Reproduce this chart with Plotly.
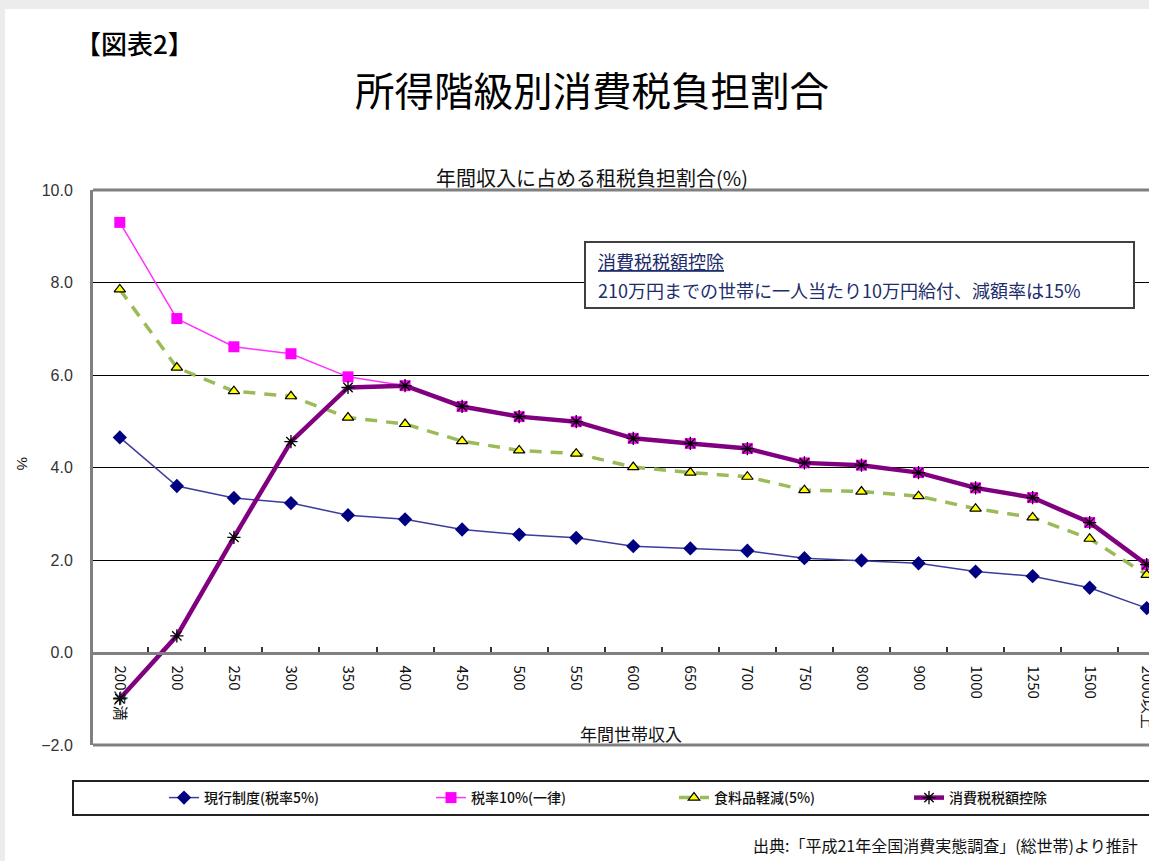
import plotly.graph_objects as go

# ---------------- data ----------------
categories = ["200未満", "200", "250", "300", "350", "400", "450", "500", "550", "600",
              "650", "700", "750", "800", "900", "1000", "1250", "1500", "2000以上"]
current_5 = [4.65, 3.60, 3.34, 3.23, 2.97, 2.88, 2.66, 2.55, 2.48, 2.30,
             2.25, 2.20, 2.04, 1.99, 1.93, 1.75, 1.65, 1.40, 0.96]
flat_10 = [9.30, 7.22, 6.61, 6.46, 5.96, 5.77, 5.32, 5.10, 4.99, 4.63,
           4.52, 4.41, 4.10, 4.05, 3.89, 3.56, 3.35, 2.81, 1.90]
food_5 = [7.85, 6.16, 5.65, 5.54, 5.08, 4.94, 4.57, 4.37, 4.30, 4.01,
          3.89, 3.80, 3.51, 3.48, 3.38, 3.11, 2.92, 2.46, 1.68]
credit = [-1.00, 0.36, 2.49, 4.56, 5.73, 5.77, 5.32, 5.10, 4.99, 4.63,
          4.52, 4.41, 4.10, 4.05, 3.89, 3.56, 3.35, 2.81, 1.90]
series_names = ["現行制度(税率5%)", "税率10%(一律)", "食料品軽減(5%)", "消費税税額控除"]

# ---------------- layout helpers (pixel -> paper) ----------------
W, H = 1149, 861
ML, MR, MT, MB = 93, 0, 190, 116
PW, PH = W - ML - MR, H - MT - MB


def X(px):
    return (px - ML) / PW


def Y(py):
    return (H - MB - py) / PH


JP = "Noto Sans CJK JP"
NUM = "Liberation Sans"

fig = go.Figure()

fig.add_trace(go.Scatter(
    x=categories, y=current_5, name=series_names[0], mode="lines+markers",
    line=dict(color="#3c3c9c", width=1.5),
    marker=dict(symbol="diamond", size=11, color="#000080"),
    legend="legend"))
fig.add_trace(go.Scatter(
    x=categories, y=flat_10, name=series_names[1], mode="lines+markers",
    line=dict(color="#ff33ff", width=1.5),
    marker=dict(symbol="square", size=11, color="#ff00ff"),
    legend="legend2"))
fig.add_trace(go.Scatter(
    x=categories, y=food_5, name=series_names[2], mode="lines+markers",
    line=dict(color="#9bbb59", width=3.5, dash="12px,9px"),
    marker=dict(symbol="triangle-up", size=10, color="#ffff00",
                line=dict(color="#000000", width=1.2)),
    legend="legend3"))
fig.add_trace(go.Scatter(
    x=categories, y=credit, name=series_names[3], mode="lines+markers",
    line=dict(color="#800080", width=4.5),
    marker=dict(symbol="asterisk", size=11, color="#000000",
                line=dict(color="#000000", width=1.3)),
    legend="legend4"))

legend_common = dict(orientation="h", yanchor="middle", y=Y(798), xanchor="left",
                     bgcolor="rgba(0,0,0,0)", borderwidth=0,
                     font=dict(family=JP, size=14, color="#111111", weight=500))

fig.update_layout(
    width=W, height=H,
    margin=dict(l=ML, r=MR, t=MT, b=MB, autoexpand=False),
    paper_bgcolor="white", plot_bgcolor="white",
    showlegend=True,
    legend=dict(legend_common, x=X(164)),
    legend2=dict(legend_common, x=X(431)),
    legend3=dict(legend_common, x=X(674)),
    legend4=dict(legend_common, x=X(909)),
    xaxis=dict(
        type="category", range=[-0.47, 18.04],
        anchor="free", position=1 / 6,
        showline=True, linecolor="#808080", linewidth=3,
        ticks="inside", ticklen=5, tickcolor="#333333", tickwidth=1.5,
        tickson="boundaries", tickangle=90, ticklabelstandoff=8,
        tickfont=dict(family=JP, size=15, color="#111111"),
        showgrid=False, zeroline=False),
    yaxis=dict(
        range=[-2, 10], dtick=2, tickformat=".1f",
        showgrid=True, gridcolor="#000000", gridwidth=1.2,
        zeroline=False, showline=True, linecolor="#808080", linewidth=3,
        ticks="", ticklabelstandoff=14,
        tickfont=dict(family=NUM, size=16, color="#333333")),
)

shapes = []
# top / bottom frame lines of plot area
shapes.append(dict(type="line", xref="paper", yref="paper", x0=0, x1=1, y0=1, y1=1,
                   line=dict(color="#808080", width=3)))
shapes.append(dict(type="line", xref="paper", yref="paper", x0=0, x1=1, y0=0, y1=0,
                   line=dict(color="#808080", width=3)))
# note box
shapes.append(dict(type="rect", xref="paper", yref="paper",
                   x0=X(585), x1=X(1134), y0=Y(308), y1=Y(242),
                   fillcolor="white", line=dict(color="#404040", width=2), layer="above"))
# legend box
shapes.append(dict(type="rect", xref="paper", yref="paper",
                   x0=X(73), x1=X(1165), y0=Y(815), y1=Y(781),
                   fillcolor="rgba(0,0,0,0)", line=dict(color="#222222", width=2)))
# light grey page frame (top and left)
shapes.append(dict(type="rect", xref="paper", yref="paper",
                   x0=X(0), x1=X(W), y0=Y(0), y1=Y(9),
                   fillcolor="#ececec", line=dict(width=0)))
shapes.append(dict(type="rect", xref="paper", yref="paper",
                   x0=X(0), x1=X(5), y0=Y(0), y1=Y(H),
                   fillcolor="#ececec", line=dict(width=0)))
fig.update_layout(shapes=shapes)

ann = []
ann.append(dict(text="【図表2】", xref="paper", yref="paper", x=X(73), y=Y(42),
                xanchor="left", yanchor="middle", showarrow=False,
                font=dict(family=JP, size=26, color="#000000", weight=500)))
ann.append(dict(text="所得階級別消費税負担割合", xref="paper", yref="paper", x=X(592), y=Y(88),
                xanchor="center", yanchor="middle", showarrow=False,
                font=dict(family=JP, size=39.5, color="#000000")))
ann.append(dict(text="年間収入に占める租税負担割合(%)", xref="paper", yref="paper",
                x=X(592), y=Y(177), xanchor="center", yanchor="middle", showarrow=False,
                font=dict(family=JP, size=20, color="#111111")))
ann.append(dict(text="年間世帯収入", xref="paper", yref="paper", x=X(631), y=Y(733),
                xanchor="center", yanchor="middle", showarrow=False,
                font=dict(family=JP, size=17, color="#111111")))
ann.append(dict(text="%", xref="paper", yref="paper", x=X(23), y=Y(463),
                xanchor="center", yanchor="middle", showarrow=False, textangle=90,
                font=dict(family=NUM, size=15, color="#111111")))
ann.append(dict(text="<u>消費税税額控除</u>", xref="paper", yref="paper", x=X(596), y=Y(261),
                xanchor="left", yanchor="middle", showarrow=False,
                font=dict(family=JP, size=18, color="#1c2c6c")))
ann.append(dict(text="210万円までの世帯に一人当たり10万円給付、減額率は15%", xref="paper", yref="paper",
                x=X(596), y=Y(290), xanchor="left", yanchor="middle", showarrow=False,
                font=dict(family=JP, size=18, color="#1c2c6c")))
ann.append(dict(text="出典:「平成21年全国消費実態調査」(総世帯)より推計", xref="paper", yref="paper",
                x=X(1140), y=Y(845), xanchor="right", yanchor="middle", showarrow=False,
                font=dict(family=JP, size=16, color="#111111")))
fig.update_layout(annotations=ann)

fig.write_html("out.html")
